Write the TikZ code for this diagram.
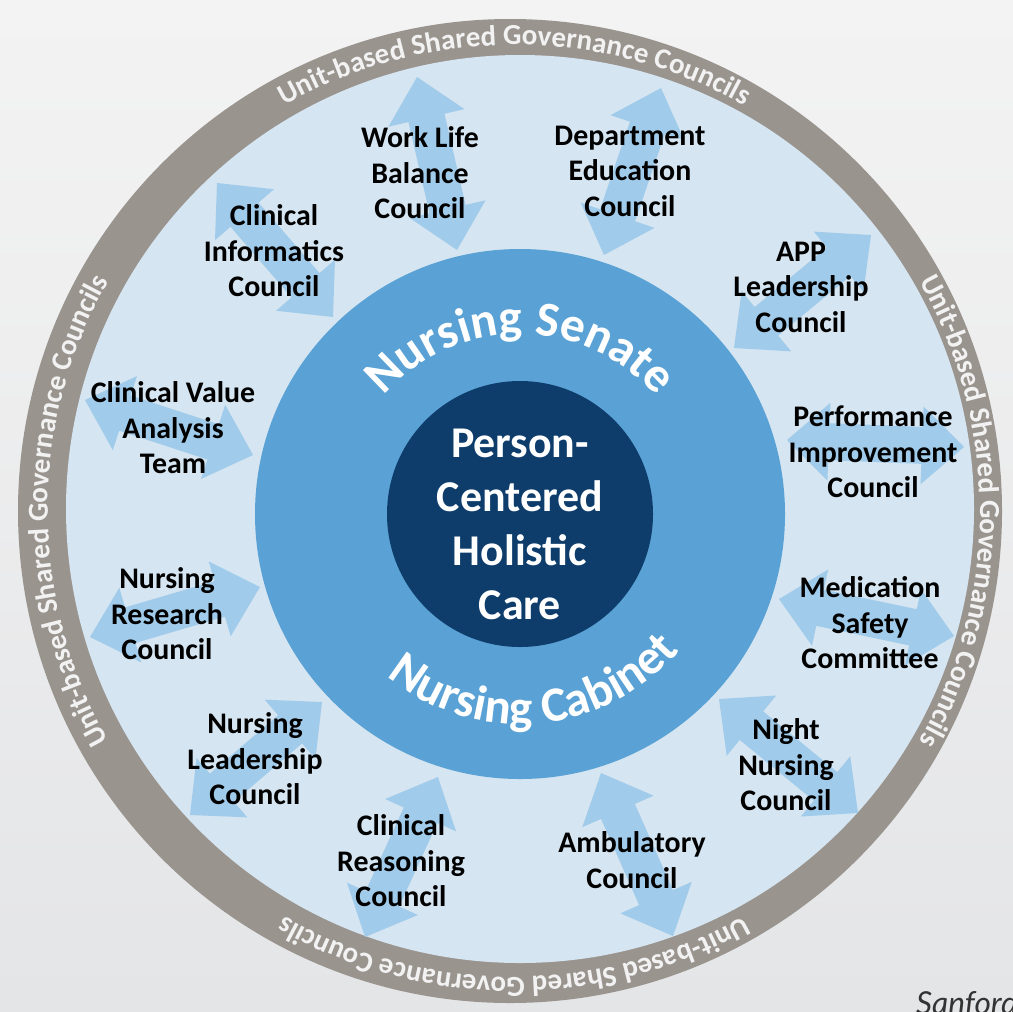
\documentclass[tikz,border=0pt]{standalone}
\usepackage{fontspec}
\setmainfont{Carlito}
\newfontfamily\credfont{Lato}
\usetikzlibrary{positioning,calc,decorations.text}

\definecolor{bgtop}{HTML}{F3F3F3}
\definecolor{bgbot}{HTML}{E4E5E7}
\definecolor{ringgray}{HTML}{9A948F}
\definecolor{paleblue}{HTML}{D5E5F1}
\definecolor{midblue}{HTML}{5AA2D5}
\definecolor{navy}{HTML}{0E3D6B}
\definecolor{arrowblue}{HTML}{9CC9EA}

\tikzset{
  council/.style={font=\bfseries\fontsize{17}{20.2}\selectfont, align=center, text=black},
  centertext/.style={font=\bfseries\fontsize{25}{30.7}\selectfont, align=center, text=white},
  bigarrow/.style={fill=arrowblue, fill opacity=.9},
  credit/.style={font=\credfont\itshape\fontsize{18}{18}\selectfont, text=black!80},
}

\newcommand{\ringtxt}{\color{white!95!black}\bfseries\fontsize{16.5}{16.5}\selectfont}
\newcommand{\senatetxt}{\color{white}\bfseries\fontsize{28}{28}\selectfont}
\def\arrlen{0.84cm}
\def\arrhw{0.78cm}
\def\arrsw{0.37cm}

% double block arrow between two named coordinates
\newcommand{\dblarrow}[2]{%
  \fill[bigarrow] (#1)
    -- ($(#1)!\arrlen!(#2)!\arrhw!90:(#2)$)
    -- ($(#1)!\arrlen!(#2)!\arrsw!90:(#2)$)
    -- ($(#2)!\arrlen!(#1)!\arrsw!-90:(#1)$)
    -- ($(#2)!\arrlen!(#1)!\arrhw!-90:(#1)$)
    -- (#2)
    -- ($(#2)!\arrlen!(#1)!\arrhw!90:(#1)$)
    -- ($(#2)!\arrlen!(#1)!\arrsw!90:(#1)$)
    -- ($(#1)!\arrlen!(#2)!\arrsw!-90:(#2)$)
    -- ($(#1)!\arrlen!(#2)!\arrhw!-90:(#2)$)
    -- cycle;}

\begin{document}
\begin{tikzpicture}[x=0.02cm,y=0.02cm]
          % Canvas
          \useasboundingbox (0,0) rectangle (1013,-1011);
          \clip (0,0) rectangle (1013,-1011);
          \shade[top color=bgtop, bottom color=bgbot] (0,0) rectangle (1013,-1011);

          % Outer ring and pale field
          \coordinate (ctr) at (520,-514);
          \coordinate (ringc) at (510,-511);
          \coordinate (fieldc) at (520,-509);
          \coordinate (textc) at (514,-511);
          \fill[ringgray] (ringc) circle[radius=492];
          \fill[paleblue] (fieldc) circle[radius=454];

          % Ring labels
          \foreach \a [evaluate=\a as \s using \a+60, evaluate=\a as \e using \a-60] in {90,0,-90,180}
              \path[decorate, decoration={text along path, text align=center,
                  text={|\ringtxt|Unit-based Shared Governance Councils}}]
                  (textc) ++(\s:466) arc[start angle=\s, end angle=\e, radius=466];

          % Arrow ends
          \coordinate (wlb-o) at (417,-77);   \coordinate (wlb-i) at (457,-250);
          \coordinate (dep-o) at (661,-88);   \coordinate (dep-i) at (604,-255);
          \coordinate (cinf-o) at (217,-183); \coordinate (cinf-i) at (333,-317);
          \coordinate (app-o) at (871,-235);  \coordinate (app-i) at (734,-348);
          \coordinate (cva-o) at (85,-400);   \coordinate (cva-i) at (253,-455);
          \coordinate (perf-o) at (964,-447); \coordinate (perf-i) at (787,-440);
          \coordinate (nres-o) at (90,-637);  \coordinate (nres-i) at (260,-587);
          \coordinate (med-o) at (954,-636);  \coordinate (med-i) at (779,-599);
          \coordinate (nlead-o) at (190,-815); \coordinate (nlead-i) at (322,-702);
          \coordinate (night-o) at (858,-813); \coordinate (night-i) at (719,-699);
          \coordinate (creas-o) at (365,-937); \coordinate (creas-i) at (438,-777);
          \coordinate (amb-o) at (673,-936);  \coordinate (amb-i) at (601,-773);

          % Draw the arrows
          \foreach \k in {wlb,dep,cinf,app,cva,perf,nres,med,nlead,night,creas,amb}
              \dblarrow{\k-o}{\k-i};

          % Senate and core
          \fill[midblue] (ctr) circle[radius=265];
          \fill[navy] (ctr) circle[radius=133];
          \path[decorate, decoration={text along path, text align=center, text={|\senatetxt|Nursing Senate}}]
              (ctr) ++(145:180) arc[start angle=145, end angle=35, radius=180];
          \path[decorate, decoration={text along path, text align=center, text={|\senatetxt|Nursing Cabinet}}]
              (ctr) ++(-135:210) arc[start angle=-135, end angle=-35, radius=210];
          \node[centertext] (core) at (520,-524) {Person-\\Centered\\Holistic\\Care};

          % Define the council nodes
          \node[council] (wlb) at (420,-173) {Work Life\\Balance\\Council};
          \node[council] (cinf) at (274,-251) {Clinical\\Informatics\\Council};
          \node[council] (cva) at (173,-428) {Clinical Value\\Analysis\\Team};
          \node[council] (dep) at (630,-171) {Department\\Education\\Council};
          \node[council] (app) at (801,-287) {APP\\Leadership\\Council};
          \node[council] (perf) at (873,-452) {Performance\\Improvement\\Council};
          \node[council] (nres) at (167,-614) {Nursing\\Research\\Council};
          \node[council] (med) at (870,-623) {Medication\\Safety\\Committee};
          \node[council] (nlead) at (255,-759) {Nursing\\Leadership\\Council};
          \node[council] (night) at (786,-765) {Night\\Nursing\\Council};
          \node[council] (creas) at (401,-861) {Clinical\\Reasoning\\Council};
          \node[council] (amb) at (632,-860) {Ambulatory\\Council};

          % Credit
          \node[credit, anchor=base west] (sanford) at (910,-1014) {Sanford};

\end{tikzpicture}
\end{document}
